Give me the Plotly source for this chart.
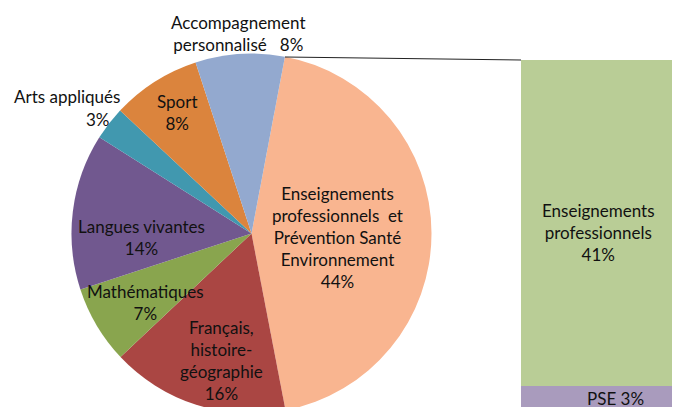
import plotly.graph_objects as go

# ---- data ----
pie_labels = ["Enseignements professionnels et Prévention Santé Environnement",
              "Français, histoire-géographie", "Mathématiques", "Langues vivantes",
              "Arts appliqués", "Sport", "Accompagnement personnalisé"]
pie_values = [44, 16, 7, 14, 3, 8, 8]
pie_colors = ["#F9B590", "#AA4643", "#89A54E", "#71588F", "#4198AF", "#DB843D", "#93A9CF"]

bar_labels = ["PSE", "Enseignements professionnels"]
bar_values = [3, 41]
bar_colors = ["#A99BBD", "#B9CD96"]

W, H = 680, 407
OFF = 8  # page body margin
FONT = "Lato"
FS = 17
TXT = "#111111"


def px(x, y):
    """screen pixel -> paper coords"""
    return (x - OFF) / W, (H - (y - OFF)) / H


fig = go.Figure()

# pie geometry (screen pixels)
cx, cy, r = 251.5, 233.5, 180
(dx0, dy1), (dx1, dy0) = px(cx - r, cy - r), px(cx + r, cy + r)
fig.add_trace(go.Pie(
    labels=pie_labels, values=pie_values, sort=False, direction="clockwise",
    rotation=10.7, textinfo="none", hoverinfo="label+percent",
    marker=dict(colors=pie_colors, line=dict(width=0)),
    domain=dict(x=[dx0, dx1], y=[dy0, dy1]),
    showlegend=False,
))

# bar of pie
for lab, val, col in zip(bar_labels, bar_values, bar_colors):
    fig.add_trace(go.Bar(x=[0], y=[val], name=lab, marker=dict(color=col, line=dict(width=0)),
                         width=1, showlegend=False, xaxis="x", yaxis="y"))

bar_left, bar_top, bar_bottom = 521, 60, 410
bx0, by1 = px(bar_left, bar_top)
_, by0 = px(bar_left, bar_bottom)
fig.update_layout(
    width=W, height=H, margin=dict(l=0, r=0, t=0, b=0),
    paper_bgcolor="white", plot_bgcolor="rgba(0,0,0,0)",
    barmode="stack", bargap=0,
    xaxis=dict(domain=[bx0, 1], range=[-0.5, 0.5], visible=False, fixedrange=True),
    yaxis=dict(domain=[by0, by1], range=[0, sum(bar_values)], visible=False, fixedrange=True),
)

# connector line from pie to bar top
x0, y0 = px(285, 57)
fig.add_shape(type="line", xref="paper", yref="paper", x0=x0, y0=y0, x1=bx0, y1=by1,
              line=dict(color="#222222", width=1))

labels = [
    ("Accompagnement<br>personnalisé\u00a0\u00a0\u00a08%", 238, 33.5),
    ("Arts appliqués", 67.5, 97),
    ("3%", 98, 120),
    ("Sport<br>8%", 177, 112),
    ("Langues vivantes<br>14%", 141.5, 237.5),
    ("Mathématiques<br>7%", 145.5, 302),
    ("Français,<br>histoire-<br>géographie<br>16%", 221.5, 360.5),
    ("Enseignements<br>professionnels\u00a0\u00a0et<br>Prévention Santé<br>Environnement<br>44%", 337.5, 237),
    ("Enseignements<br>professionnels<br>41%", 598, 232),
    ("PSE 3%", 615, 398),
]
for text, x, y in labels:
    ax, ay = px(x, y)
    fig.add_annotation(text=text, x=ax, y=ay, xref="paper", yref="paper",
                       xanchor="center", yanchor="middle", showarrow=False, align="center",
                       font=dict(family=FONT, size=FS, color=TXT))

fig.write_html("out.html")
